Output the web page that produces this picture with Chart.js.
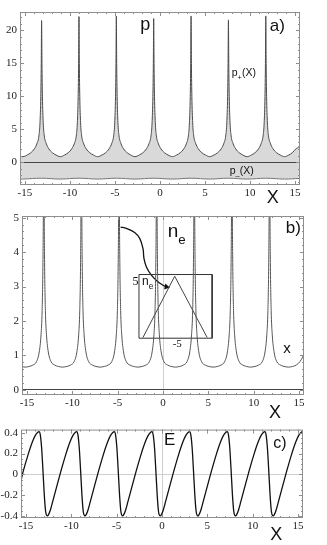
<!DOCTYPE html>
<html>
<head>
<meta charset="utf-8">
<script src="https://cdn.jsdelivr.net/npm/chart.js@4.4.1/dist/chart.umd.min.js"></script>
<style>
  html, body { margin: 0; padding: 0; background: #fff; }
  body { width: 327px; height: 545px; position: relative; overflow: hidden; }
  canvas { position: absolute; left: 0; }
</style>
</head>
<body>
<canvas id="chart-a" width="327" height="205" style="top:0"></canvas>
<canvas id="chart-b" width="327" height="215" style="top:205px"></canvas>
<canvas id="chart-c" width="327" height="125" style="top:420px"></canvas>
<script>
// three stacked panels: p(X), n_e(X), E(X)

// shared X grid for the spiky curves (panels a and b)
const xs = [
  -15.55, -15.2,
  -14.75, -14.35, -13.95, -13.65, -13.45, -13.33, -13.24, -13.19, -13.15, -13.11, -13.06, -12.97, -12.85, -12.65, -12.35, -11.95, -11.55, -11.08,
  -10.6, -10.2, -9.8, -9.5, -9.3, -9.18, -9.09, -9.04, -9.0, -8.96, -8.91, -8.82, -8.7, -8.5, -8.2, -7.8, -7.4, -6.93,
  -6.45, -6.05, -5.65, -5.35, -5.15, -5.03, -4.94, -4.89, -4.85, -4.81, -4.76, -4.67, -4.55, -4.35, -4.05, -3.65, -3.25, -2.78,
  -2.3, -1.9, -1.5, -1.2, -1.0, -0.88, -0.79, -0.74, -0.7, -0.66, -0.61, -0.52, -0.4, -0.2, 0.1, 0.5, 0.9, 1.38,
  1.85, 2.25, 2.65, 2.95, 3.15, 3.27, 3.36, 3.41, 3.45, 3.49, 3.54, 3.63, 3.75, 3.95, 4.25, 4.65, 5.05, 5.53,
  6.0, 6.4, 6.8, 7.1, 7.3, 7.42, 7.51, 7.56, 7.6, 7.64, 7.69, 7.78, 7.9, 8.1, 8.4, 8.8, 9.2, 9.68,
  10.15, 10.55, 10.95, 11.25, 11.45, 11.57, 11.66, 11.71, 11.75, 11.79, 11.84, 11.93, 12.05, 12.25, 12.55, 12.95, 13.35, 13.83,
  14.3, 14.7, 15.1, 15.4, 15.55,
];
const pPlus = [
  0.9, 0.85,
  1.1, 1.45, 2.05, 2.9, 4.0, 6.0, 10, 15, 21.5, 15, 10, 6.0, 4.0, 2.9, 2.05, 1.45, 1.1, 0.85,
  1.1, 1.45, 2.05, 2.9, 4.0, 6.0, 10, 15, 22.1, 15, 10, 6.0, 4.0, 2.9, 2.05, 1.45, 1.1, 0.85,
  1.1, 1.45, 2.05, 2.9, 4.0, 6.0, 10, 15, 22.2, 15, 10, 6.0, 4.0, 2.9, 2.05, 1.45, 1.1, 0.85,
  1.1, 1.45, 2.05, 2.9, 4.0, 6.0, 10, 15, 21.8, 15, 10, 6.0, 4.0, 2.9, 2.05, 1.45, 1.1, 0.85,
  1.1, 1.45, 2.05, 2.9, 4.0, 6.0, 10, 15, 22.2, 15, 10, 6.0, 4.0, 2.9, 2.05, 1.45, 1.1, 0.85,
  1.1, 1.45, 2.05, 2.9, 4.0, 6.0, 10, 15, 21.6, 15, 10, 6.0, 4.0, 2.9, 2.05, 1.45, 1.1, 0.85,
  1.1, 1.45, 2.05, 2.9, 4.0, 6.0, 10, 15, 22.2, 15, 10, 6.0, 4.0, 2.9, 2.05, 1.45, 1.1, 0.85,
  1.1, 1.45, 2.05, 2.3, 2.7,
];
const nE = [
  0.67, 0.66,
  0.68, 0.72, 0.82, 1.1, 1.6, 2.3, 3.7, 5.5, 9, 5.5, 3.7, 2.3, 1.6, 1.1, 0.82, 0.72, 0.68, 0.66,
  0.68, 0.72, 0.82, 1.1, 1.6, 2.3, 3.7, 5.5, 9, 5.5, 3.7, 2.3, 1.6, 1.1, 0.82, 0.72, 0.68, 0.66,
  0.68, 0.72, 0.82, 1.1, 1.6, 2.3, 3.7, 5.5, 9, 5.5, 3.7, 2.3, 1.6, 1.1, 0.82, 0.72, 0.68, 0.66,
  0.68, 0.72, 0.82, 1.1, 1.6, 2.3, 3.7, 5.5, 9, 5.5, 3.7, 2.3, 1.6, 1.1, 0.82, 0.72, 0.68, 0.66,
  0.68, 0.72, 0.82, 1.1, 1.6, 2.3, 3.7, 5.5, 9, 5.5, 3.7, 2.3, 1.6, 1.1, 0.82, 0.72, 0.68, 0.66,
  0.68, 0.72, 0.82, 1.1, 1.6, 2.3, 3.7, 5.5, 9, 5.5, 3.7, 2.3, 1.6, 1.1, 0.82, 0.72, 0.68, 0.66,
  0.68, 0.72, 0.82, 1.1, 1.6, 2.3, 3.7, 5.5, 9, 5.5, 3.7, 2.3, 1.6, 1.1, 0.82, 0.72, 0.68, 0.66,
  0.68, 0.72, 0.82, 0.95, 1.05,
];
// lower branch p_-(X): gentle ripple
const pMinusX = [-15.55, -15.2, -13.15, -11.08, -9.0, -6.93, -4.85, -2.78, -0.7, 1.38, 3.45, 5.53, 7.6, 9.68, 11.75, 13.83, 15.55];
const pMinusY = [-2.54, -2.55, -2.42, -2.55, -2.42, -2.55, -2.42, -2.55, -2.42, -2.55, -2.42, -2.55, -2.42, -2.55, -2.42, -2.55, -2.45];

// inset of panel b: box, triangle, curved arrow
const boxX = [-2.65, 5.42, 5.42, -2.65, -2.65];
const boxY = [3.35, 3.35, 1.5, 1.5, 3.35];
const triX = [-2.21, 1.29, 4.87];
const triY = [1.52, 3.30, 1.52];
const arrowX = [-4.68, -4.05, -3.13, -2.57, -2.21, -2.10, -1.83, -1.28, -0.66, 0, 0.38];
const arrowY = [4.73, 4.69, 4.57, 4.40, 4.11, 3.82, 3.57, 3.33, 3.16, 3.04, 2.99];

// field E(X): slow rise, steep fall
const eX = [
  -15.55, -15.3, -14.8, -14.3, -14.0, -13.75, -13.55,
  -13.43, -13.28, -13.13, -12.98, -12.83, -12.65,
  -12.5, -12.3, -12.05, -11.65, -11.15, -10.65, -10.15, -9.85, -9.6, -9.4,
  -9.28, -9.13, -8.98, -8.83, -8.68, -8.5,
  -8.35, -8.15, -7.9, -7.5, -7.0, -6.5, -6.0, -5.7, -5.45, -5.25,
  -5.13, -4.98, -4.83, -4.68, -4.53, -4.35,
  -4.2, -4.0, -3.75, -3.35, -2.85, -2.35, -1.85, -1.55, -1.3, -1.1,
  -0.98, -0.83, -0.68, -0.53, -0.38, -0.2,
  -0.05, 0.15, 0.4, 0.8, 1.3, 1.8, 2.3, 2.6, 2.85, 3.05,
  3.17, 3.32, 3.47, 3.62, 3.77, 3.95,
  4.1, 4.3, 4.55, 4.95, 5.45, 5.95, 6.45, 6.75, 7.0, 7.2,
  7.32, 7.47, 7.62, 7.77, 7.92, 8.1,
  8.25, 8.45, 8.7, 9.1, 9.6, 10.1, 10.6, 10.9, 11.15, 11.35,
  11.47, 11.62, 11.77, 11.92, 12.07, 12.25,
  12.4, 12.6, 12.85, 13.25, 13.75, 14.25, 14.75, 15.05, 15.3, 15.5, 15.55,
];
const eY = [
  -0.06, 0.03, 0.18, 0.31, 0.37, 0.40, 0.41,
  0.385, 0.26, 0.04, -0.2, -0.36, -0.40,
  -0.385, -0.34, -0.26, -0.13, 0.03, 0.18, 0.31, 0.37, 0.40, 0.41,
  0.385, 0.26, 0.04, -0.2, -0.36, -0.40,
  -0.385, -0.34, -0.26, -0.13, 0.03, 0.18, 0.31, 0.37, 0.40, 0.41,
  0.385, 0.26, 0.04, -0.2, -0.36, -0.40,
  -0.385, -0.34, -0.26, -0.13, 0.03, 0.18, 0.31, 0.37, 0.40, 0.41,
  0.385, 0.26, 0.04, -0.2, -0.36, -0.40,
  -0.385, -0.34, -0.26, -0.13, 0.03, 0.18, 0.31, 0.37, 0.40, 0.41,
  0.385, 0.26, 0.04, -0.2, -0.36, -0.40,
  -0.385, -0.34, -0.26, -0.13, 0.03, 0.18, 0.31, 0.37, 0.40, 0.41,
  0.385, 0.26, 0.04, -0.2, -0.36, -0.40,
  -0.385, -0.34, -0.26, -0.13, 0.03, 0.18, 0.31, 0.37, 0.40, 0.41,
  0.385, 0.26, 0.04, -0.2, -0.36, -0.40,
  -0.385, -0.34, -0.26, -0.13, 0.03, 0.18, 0.31, 0.37, 0.40, 0.41, 0.405,
];

// tick values
const xTicks = [-15, -10, -5, 0, 5, 10, 15];
const aTicks = [0, 5, 10, 15, 20];
const bTicks = [0, 1, 2, 3, 4, 5];
const cTicks = [-0.4, -0.2, 0, 0.2, 0.4];

const SANS = "'Liberation Sans', Arial, sans-serif";
const SERIF = "'Liberation Serif', 'Times New Roman', serif";
const FRAME = '#8e8e8e';
const FILL = '#d9d9d9';
const TICK_FONT = { family: SERIF, size: 11 };

Chart.defaults.font.family = SERIF;
Chart.defaults.font.size = 11;
Chart.defaults.color = '#222';
Chart.defaults.animation = false;

const pts = (xv, yv) => xv.map((x, i) => ({ x, y: yv[i] }));

// Mathematica-style frame: box with inward major/minor ticks on all four sides
const framePlugin = {
  id: 'frame',
  afterDatasetsDraw(chart, args, opts) {
    const { ctx, chartArea: a, scales: { x, y } } = chart;
    ctx.save();
    ctx.strokeStyle = FRAME;
    ctx.lineWidth = 1;
    ctx.strokeRect(a.left + 0.5, a.top + 0.5, a.right - a.left - 1, a.bottom - a.top - 1);
    const seg = (x1, y1, x2, y2) => { ctx.beginPath(); ctx.moveTo(x1, y1); ctx.lineTo(x2, y2); ctx.stroke(); };
    const marks = (scale, step, len) => {
      for (let i = Math.ceil(scale.min / step - 1e-9); i * step <= scale.max + 1e-9; i++) {
        const p = Math.round(scale.getPixelForValue(i * step)) + 0.5;
        if (scale.axis === 'x') { seg(p, a.top, p, a.top + len); seg(p, a.bottom, p, a.bottom - len); }
        else { seg(a.left, p, a.left + len, p); seg(a.right, p, a.right - len, p); }
      }
    };
    marks(x, opts.xMinor, 2);
    marks(x, opts.xMajor, 4);
    marks(y, opts.yMinor, 2);
    marks(y, opts.yMajor, 4);
    ctx.restore();
  },
};

// free text labels placed in data coordinates, with simple subscripts
const textPlugin = {
  id: 'texts',
  afterDraw(chart, args, opts) {
    const { ctx, scales: { x, y } } = chart;
    ctx.save();
    ctx.fillStyle = '#111';
    ctx.textBaseline = 'alphabetic';
    ctx.textAlign = 'left';
    for (const item of opts.items || []) {
      let px = x.getPixelForValue(item.x);
      const py = y.getPixelForValue(item.y);
      for (const part of item.parts) {
        const size = part.sub ? item.size * 0.7 : item.size;
        ctx.font = `${size}px ${part.serif ? SERIF : SANS}`;
        ctx.fillText(part.t, px, py + (part.sub ? item.size * 0.35 : 0));
        px += ctx.measureText(part.t).width;
      }
    }
    ctx.restore();
  },
};

function scalesFor(yMin, yMax, yTicks, yWidth, xHeight, xZero, yZero) {
  const zeroLine = (c) => (ctx) => (ctx.tick && ctx.tick.value === 0 ? c : 'rgba(0,0,0,0)');
  return {
    x: {
      type: 'linear', min: -15.55, max: 15.55,
      afterBuildTicks: (s) => { s.ticks = xTicks.map((v) => ({ value: v })); },
      afterFit: (s) => { s.height = xHeight; },
      ticks: { autoSkip: false, maxRotation: 0, padding: 2, font: TICK_FONT, color: '#222', callback: (v) => String(v) },
      grid: { drawTicks: false, tickLength: 0, color: zeroLine(xZero), lineWidth: 1 },
      border: { display: false },
    },
    y: {
      type: 'linear', min: yMin, max: yMax,
      afterBuildTicks: (s) => { s.ticks = yTicks.map((v) => ({ value: v })); },
      afterFit: (s) => { s.width = yWidth; },
      ticks: { autoSkip: false, padding: 3, font: TICK_FONT, color: '#222', callback: (v) => String(v) },
      grid: { drawTicks: false, tickLength: 0, color: zeroLine(yZero), lineWidth: 1 },
      border: { display: false },
    },
  };
}

const line = (data, color, width, extra) => Object.assign({
  type: 'line', data, borderColor: color, borderWidth: width, pointRadius: 0, fill: false,
}, extra || {});

// a) momentum branches p+(X), p-(X)
new Chart(document.getElementById('chart-a'), {
  type: 'line',
  data: {
    datasets: [
      line(pts(xs, pPlus), '#4a4a4a', 1, { cubicInterpolationMode: 'monotone', fill: 'origin', backgroundColor: FILL }),
      line(pts(pMinusX, pMinusY), '#777', 1, { tension: 0.4, fill: 'origin', backgroundColor: FILL }),
    ],
  },
  options: {
    responsive: false,
    layout: { padding: { left: 0, top: 12, right: 27, bottom: 0 } },
    scales: scalesFor(-3.45, 22.8, aTicks, 20, 20, 'rgba(0,0,0,0)', '#444'),
    plugins: {
      legend: { display: false }, tooltip: { enabled: false },
      filler: { drawTime: 'beforeDraw' },
      frame: { xMajor: 5, xMinor: 1, yMajor: 5, yMinor: 1 },
      texts: { items: [
        { x: -2.2, y: 20.0, size: 18, parts: [{ t: 'p' }] },
        { x: 12.2, y: 19.9, size: 17, parts: [{ t: 'a)' }] },
        { x: 7.97, y: 13.1, size: 10.5, parts: [{ t: 'p' }, { t: '+', sub: 1 }, { t: '(X)' }] },
        { x: 7.75, y: -1.77, size: 10.5, parts: [{ t: 'p' }, { t: '\u2013', sub: 1 }, { t: '(X)' }] },
        { x: 11.85, y: -6.17, size: 18, parts: [{ t: 'X' }] },
      ] },
    },
  },
  plugins: [framePlugin, textPlugin],
});

// b) electron density n_e with inset
new Chart(document.getElementById('chart-b'), {
  type: 'line',
  data: {
    datasets: [
      line(pts(xs, nE), '#555', 1, { cubicInterpolationMode: 'monotone' }),
      line(pts(boxX, boxY), '#333', 1),
      line(pts(triX, triY), '#444', 1),
      line(pts(arrowX, arrowY), '#111', 1.3, {
        tension: 0.4,
        pointRadius: arrowX.map((v, i) => (i === arrowX.length - 1 ? 3.5 : 0)),
        pointStyle: 'triangle', rotation: 100,
        pointBackgroundColor: '#111', pointBorderColor: '#111', pointBorderWidth: 0,
      }),
    ],
  },
  options: {
    responsive: false,
    layout: { padding: { left: 0, top: 11, right: 23, bottom: 0 } },
    scales: scalesFor(-0.15, 5.05, bTicks, 22, 25, '#cfcfcf', '#444'),
    plugins: {
      legend: { display: false }, tooltip: { enabled: false },
      frame: { xMajor: 5, xMinor: 1, yMajor: 1, yMinor: 0.2 },
      texts: { items: [
        { x: 0.52, y: 4.43, size: 19, parts: [{ t: 'n' }, { t: 'e', sub: 1 }] },
        { x: 13.55, y: 4.55, size: 17, parts: [{ t: 'b)' }] },
        { x: -3.35, y: 3.04, size: 12, parts: [{ t: '5', serif: 1 }, { t: ' n' }, { t: 'e', sub: 1 }] },
        { x: 1.07, y: 1.25, size: 11, parts: [{ t: '-5', serif: 1 }] },
        { x: 13.25, y: 1.07, size: 15, parts: [{ t: 'x' }] },
        { x: 11.7, y: -0.81, size: 18, parts: [{ t: 'X' }] },
      ] },
    },
  },
  plugins: [framePlugin, textPlugin],
});

// c) electric field E
new Chart(document.getElementById('chart-c'), {
  type: 'line',
  data: {
    datasets: [
      line(pts(eX, eY), '#111', 1.3, { cubicInterpolationMode: 'monotone' }),
    ],
  },
  options: {
    responsive: false,
    layout: { padding: { left: 0, top: 7, right: 24, bottom: 0 } },
    scales: scalesFor(-0.42, 0.43, cTicks, 21, 27, '#cfcfcf', '#cfcfcf'),
    plugins: {
      legend: { display: false }, tooltip: { enabled: false },
      frame: { xMajor: 5, xMinor: 1, yMajor: 0.2, yMinor: 0.05 },
      texts: { items: [
        { x: 0.22, y: 0.28, size: 17, parts: [{ t: 'E' }] },
        { x: 12.28, y: 0.25, size: 16, parts: [{ t: 'c)' }] },
        { x: 11.95, y: -0.634, size: 18, parts: [{ t: 'X' }] },
      ] },
    },
  },
  plugins: [framePlugin, textPlugin],
});
</script>
</body>
</html>
